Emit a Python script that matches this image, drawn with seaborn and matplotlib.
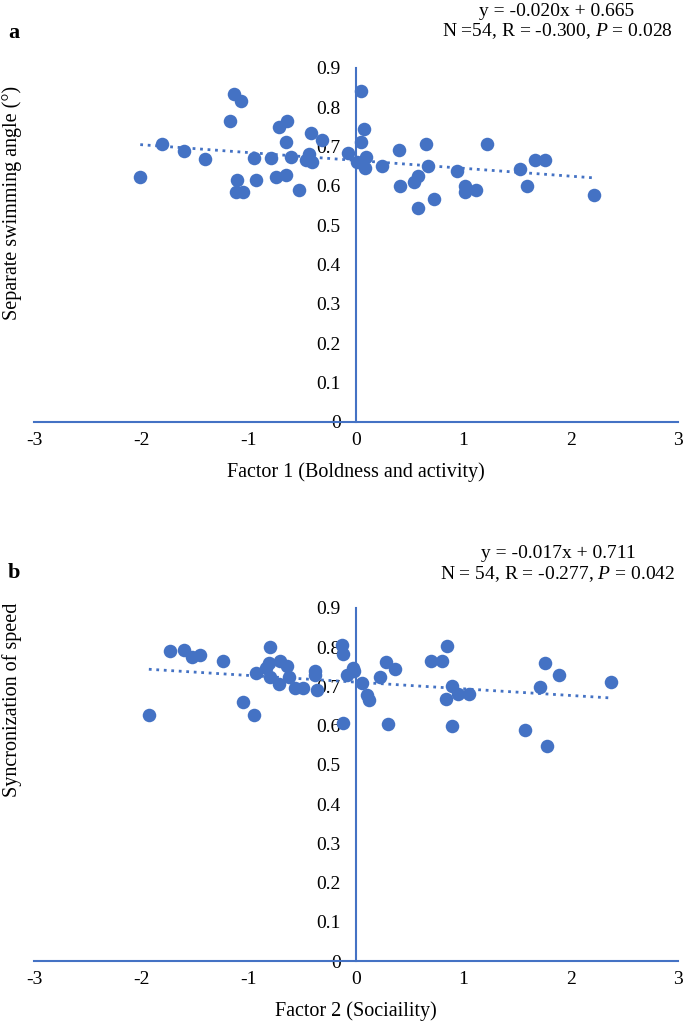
import numpy as np
import matplotlib
matplotlib.use("Agg")
import matplotlib.pyplot as plt
import seaborn as sns

# Panel a: Factor 1 vs separate swimming angle
factor1 = [-2.01, -1.81, -1.60, -1.41, -1.14, -1.07, -1.17, -1.11, -1.12, -1.05,
           -0.95, -0.93, -0.79, -0.75, -0.72, -0.64, -0.65, -0.65, -0.61, -0.53,
           -0.44, -0.47, -0.41, -0.42, -0.32, -0.07, 0.05, 0.07, 0.05, 0.01,
           0.09, 0.08, 0.24, 0.40, 0.41, 0.54, 0.58, 0.58, 0.65, 0.67,
           0.73, 0.94, 1.02, 1.02, 1.12, 1.22, 1.53, 1.59, 1.67, 1.76, 2.22]
angle = [0.622, 0.707, 0.690, 0.668, 0.835, 0.815, 0.766, 0.615, 0.585, 0.585,
         0.672, 0.616, 0.671, 0.623, 0.751, 0.764, 0.713, 0.628, 0.674, 0.590,
         0.682, 0.667, 0.660, 0.736, 0.716, 0.685, 0.842, 0.745, 0.712, 0.662,
         0.673, 0.645, 0.652, 0.692, 0.599, 0.610, 0.626, 0.544, 0.707, 0.650,
         0.567, 0.639, 0.599, 0.584, 0.590, 0.707, 0.643, 0.599, 0.667, 0.667, 0.578]
fit_a = (-0.020, 0.665)

# Panel b: Factor 2 vs synchronization of speed
factor2 = [-1.93, -1.73, -1.60, -1.53, -1.45, -1.24, -1.05, -0.95, -0.93, -0.84,
           -0.81, -0.80, -0.80, -0.72, -0.71, -0.64, -0.62, -0.57, -0.49, -0.38,
           -0.38, -0.36, -0.13, -0.12, -0.12, -0.08, -0.03, -0.02, 0.06, 0.10,
           0.12, 0.22, 0.28, 0.36, 0.30, 0.70, 0.80, 0.85, 0.89, 0.84,
           0.95, 1.05, 0.89, 1.57, 1.71, 1.76, 1.89, 2.38, 1.78]
sync_speed = [0.626, 0.791, 0.793, 0.776, 0.781, 0.765, 0.661, 0.626, 0.734, 0.747,
              0.759, 0.800, 0.724, 0.706, 0.766, 0.751, 0.724, 0.697, 0.697, 0.740,
              0.730, 0.691, 0.806, 0.783, 0.608, 0.730, 0.747, 0.740, 0.708, 0.678,
              0.666, 0.724, 0.762, 0.745, 0.604, 0.765, 0.765, 0.804, 0.700, 0.668,
              0.680, 0.680, 0.599, 0.589, 0.698, 0.761, 0.730, 0.712, 0.548]
fit_b = (-0.017, 0.711)

x_ticks = [-3, -2, -1, 0, 1, 2, 3]
y_ticks = [0, 0.1, 0.2, 0.3, 0.4, 0.5, 0.6, 0.7, 0.8, 0.9]

blue = '#4472C4'

sns.set_style('white')
plt.rcParams['font.family'] = ['Liberation Serif', 'DejaVu Serif']
plt.rcParams['text.color'] = 'black'
plt.rcParams['axes.labelcolor'] = 'black'
plt.rcParams['axes.unicode_minus'] = False
plt.rcParams['mathtext.fontset'] = 'custom'
plt.rcParams['mathtext.it'] = 'Liberation Serif:italic'
plt.rcParams['mathtext.rm'] = 'Liberation Serif'

W, H = 685, 1025
fig = plt.figure(figsize=(W / 100, H / 100), dpi=100)


def panel(rect, x, y, fit, xlabel):
    ax = fig.add_axes(rect)
    sns.scatterplot(x=x, y=y, ax=ax, color=blue, s=95, linewidth=0, zorder=3)
    xs = np.array([min(x), max(x)])
    ax.plot(xs, fit[0] * xs + fit[1], color=blue, lw=2.0,
            linestyle=(0, (1, 1.7)), zorder=2)
    ax.set_xlim(-3, 3)
    ax.set_ylim(0, 0.9)
    ax.set_xticks(x_ticks)
    ax.set_yticks(y_ticks)
    ax.set_xticklabels([str(t) for t in x_ticks])
    ax.set_yticklabels([f'{t:g}' for t in y_ticks])
    ax.spines['left'].set_position(('data', 0))
    ax.spines['top'].set_visible(False)
    ax.spines['right'].set_visible(False)
    for s in ['left', 'bottom']:
        ax.spines[s].set_color(blue)
        ax.spines[s].set_linewidth(1.5)
    ax.tick_params(axis='both', direction='in', length=4, width=1.3,
                   color=blue, labelsize=14, labelcolor='black')
    ax.tick_params(axis='y', pad=11)
    ax.tick_params(axis='x', pad=7)
    ax.set_xlabel(xlabel, fontsize=14.5, labelpad=10)
    ax.set_ylabel('')
    ax.patch.set_alpha(0)
    return ax


axa = panel([34 / W, 1 - 422 / H, 644 / W, 354 / H], factor1, angle, fit_a,
            'Factor 1 (Boldness and activity)')
axb = panel([34 / W, 1 - 961 / H, 644 / W, 353 / H], factor2, sync_speed, fit_b,
            'Factor 2 (Sociaility)')

fig.text(12 / W, 1 - 203 / H, 'Separate swimming angle (°)', rotation=90,
         ha='center', va='center', fontsize=14.5)
fig.text(12 / W, 1 - 700 / H, 'Syncronization of speed', rotation=90,
         ha='center', va='center', fontsize=14.5)

fig.text(14 / W, 1 - 33 / H, 'a', fontsize=16, fontweight='bold', ha='center', va='center')
fig.text(14 / W, 1 - 573 / H, 'b', fontsize=16, fontweight='bold', ha='center', va='center')

fig.text(557 / W, 1 - 12 / H, f'y = {fit_a[0]:.3f}x + {fit_a[1]:.3f}',
         ha='center', va='center', fontsize=14)
fig.text(557 / W, 1 - 31 / H, 'N =54, R = -0.300, $P$ = 0.028',
         ha='center', va='center', fontsize=14)
fig.text(558 / W, 1 - 553 / H, f'y = {fit_b[0]:.3f}x + {fit_b[1]:.3f}',
         ha='center', va='center', fontsize=14)
fig.text(558 / W, 1 - 574 / H, 'N = 54, R = -0.277, $P$ = 0.042',
         ha='center', va='center', fontsize=14)

fig.savefig('out.png', dpi=100)
